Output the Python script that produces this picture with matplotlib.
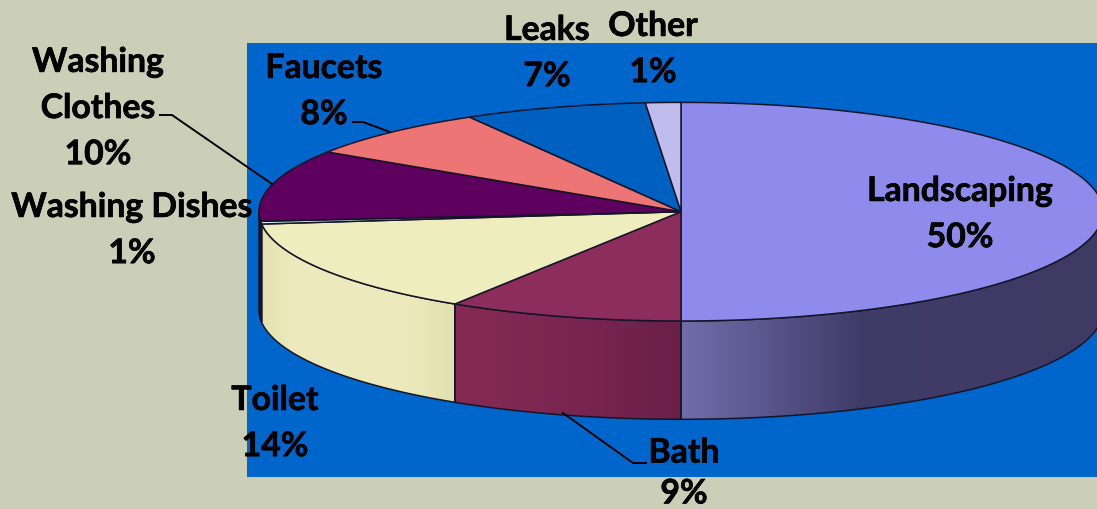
#!/usr/bin/env python3
import matplotlib
matplotlib.use("Agg")
import matplotlib.pyplot as plt
import matplotlib.patheffects as pe
import numpy as np
from matplotlib.colors import LinearSegmentedColormap
from matplotlib.patches import Polygon, Rectangle

categories = ['Landscaping', 'Bath', 'Toilet', 'Washing Dishes', 'Washing Clothes', 'Faucets', 'Leaks', 'Other']
shares = [50, 9, 14.2, 0.4, 10.6, 7.45, 7.0, 1.35]
top_colors = ['#8E8BEC', '#8C2D5C', '#EEEDBD', '#CDEBEE', '#5E005E', '#EE7575', '#0060C0', '#C0BDEE']
wall_colors = [
    [(0, '#716DA9'), (0.2, '#5A568E'), (0.42, '#403C68'), (1, '#3E3A64')],
    [(0, '#862A55'), (0.5, '#7A2650'), (1, '#692047')],
    [(0, '#E4E2B1'), (0.15, '#ECEABC'), (0.75, '#ECEABC'), (1, '#E2E0AE')],
    [(0, '#AFC8CC'), (1, '#AFC8CC')],
    [(0, '#300030'), (1, '#300030')],
]
# label text, its centre in pixels and its line spacing
label_text = ['Landscaping\n50%', 'Bath\n9%', 'Toilet\n14%', 'Washing Dishes\n1%',
              'Washing\nClothes\n10%', 'Faucets\n8%', 'Leaks\n7%', 'Other\n1%']
label_x = [960, 684, 275, 132, 98, 324, 547, 653]
label_y = [215, 474, 424, 231, 109, 92, 54, 50]
label_spacing = [1.545, 1.34, 1.545, 1.545, 1.545, 1.545, 1.545, 1.545]

cx, cy, rx, ry, depth = 681, 212.7, 422, 109.3, 98.3


def rim(t0, t1, y_off=0):
    t = np.radians(np.linspace(t0, t1, 200))
    return np.column_stack([cx + rx * np.sin(t), cy - ry * np.cos(t) + y_off])


fig = plt.figure(figsize=(10.97, 5.10), dpi=100, facecolor='#CCCFB8')
ax = fig.add_axes([0, 0, 1, 1])
ax.axis('off')
ax.add_patch(Rectangle((247, 44), 850, 434, facecolor='#0066CC', edgecolor='none', zorder=1))

edges = np.concatenate([[0], np.cumsum(shares)]) * 3.6

# side walls, only the front half of the rim shows
for i, stops in enumerate(wall_colors):
    t0, t1 = max(edges[i], 90), min(edges[i + 1], 270)
    outline = np.vstack([rim(t0, t1), rim(t1, t0, depth)])
    wall = Polygon(outline, closed=True, facecolor='none', edgecolor='#15152a', linewidth=1.1, zorder=3)
    ax.add_patch(wall)
    cmap = LinearSegmentedColormap.from_list('wall%d' % i, stops)
    x0, x1 = outline[:, 0].min(), outline[:, 0].max()
    shade = np.linspace(0, 1, 256).reshape(1, -1)
    im = ax.imshow(shade, cmap=cmap, vmin=0, vmax=1, aspect='auto',
                   extent=(x0, x1, outline[:, 1].max(), outline[:, 1].min()), zorder=2)
    im.set_clip_path(wall)

# top face
for i, share in enumerate(shares):
    pts = np.vstack([[cx, cy], rim(edges[i], edges[i + 1])])
    ax.add_patch(Polygon(pts, closed=True, facecolor=top_colors[i], edgecolor='#15152a',
                         linewidth=1.1, zorder=4))

# leader lines
ax.plot([160, 172, 272], [116, 116, 185], color='black', lw=1.4, zorder=5)
ax.plot([353, 363, 390], [123, 123, 133], color='black', lw=1.4, zorder=5)
ax.plot([563, 633, 646], [414, 464, 464], color='black', lw=1.4, zorder=5)

for text, x, y, spacing in zip(label_text, label_x, label_y, label_spacing):
    ax.text(x, y, text, ha='center', va='center', family='Lato', fontweight='bold',
            fontsize=24.3, linespacing=spacing, color='black', zorder=6,
            path_effects=[pe.withStroke(linewidth=0.5, foreground='black')])

ax.set_xlim(0, 1097)
ax.set_ylim(510, 0)
fig.savefig('out.png', dpi=100, facecolor=fig.get_facecolor())
